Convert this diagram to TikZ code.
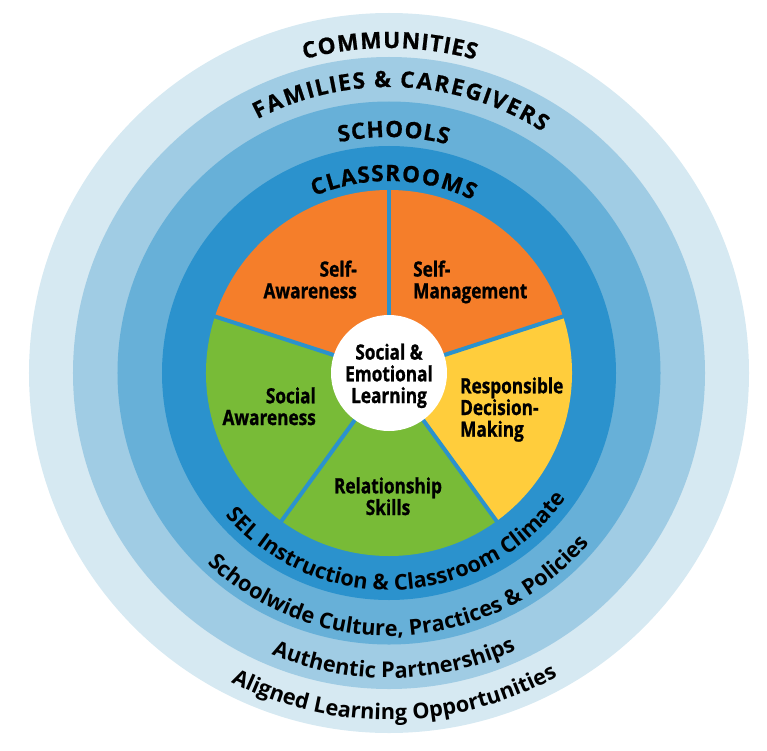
\documentclass[tikz,border=0pt]{standalone}
\usepackage{fontspec}
\usetikzlibrary{decorations.text}
\newfontfamily\osans{Open Sans}
\newfontfamily\ostitle{Open Sans}[FakeBold=0.8]
\newfontfamily\oscond{Open Sans}[FakeStretch=0.82,FakeBold=1]
\definecolor{commun}{HTML}{D6E9F2}
\definecolor{famil}{HTML}{A0CCE4}
\definecolor{school}{HTML}{67B0D8}
\definecolor{classr}{HTML}{2B92CD}
\definecolor{selorange}{HTML}{F57E2A}
\definecolor{selyellow}{HTML}{FFCD3C}
\definecolor{selgreen}{HTML}{78BB37}
\newcommand\mytitlefont{\ostitle\bfseries\fontsize{22.5}{26}\selectfont}
\newcommand\myarcfont{\osans\bfseries\fontsize{21.7}{26}\selectfont}
\newcommand\mypiefont{\oscond\bfseries\fontsize{21}{21.7}\selectfont}
\tikzset{
  titletext/.style={decorate, decoration={text effects along path, text={#1},
    text effects/.cd, text along path, fit text to path,
    characters={font=\mytitlefont, text=black, inner sep=0pt, anchor=base}}},
  arctext/.style={decorate, decoration={text along path,
    text={|\myarcfont|#1}, text align=center}},
  pielabel/.style={font=\mypiefont, text=black, inner sep=0pt},
  sep/.style={draw=classr, line width=4pt},
}
\begin{document}
\begin{tikzpicture}[x=1pt,y=1pt]
\useasboundingbox (-389,-377) rectangle (378,373);
% rings
\fill[commun] (0,0) circle[radius=360];
\fill[famil] (0,0) circle[radius=316];
\fill[school] (0,0) circle[radius=271.5];
\fill[classr] (0,0) circle[radius=227];
% pie sectors
\fill[selorange] (0,0) -- (90:183) arc[start angle=90, end angle=162, radius=183] -- cycle;
\fill[selorange] (0,0) -- (18:183) arc[start angle=18, end angle=90, radius=183] -- cycle;
\fill[selyellow] (0,0) -- (-54:183) arc[start angle=-54, end angle=18, radius=183] -- cycle;
\fill[selgreen] (0,0) -- (-126:183) arc[start angle=-126, end angle=-54, radius=183] -- cycle;
\fill[selgreen] (0,0) -- (162:183) arc[start angle=162, end angle=234, radius=183] -- cycle;
\coordinate (c) at (0,0);
\foreach \a in {90,18,-54,-126,162} {
  \coordinate (e\a) at (\a:184);
  \draw[sep] (c) -- (e\a);
}
\fill[white] (0,0) circle[radius=58];
% titles on top arcs
\path[titletext={COMMUNITIES}] (105.1:325) arc[start angle=105.1, end angle=74.6, radius=325];
\path[titletext={FAMILIES {\&} CAREGIVERS}] (117.4:286) arc[start angle=117.4, end angle=57.5, radius=286];
\path[titletext={SCHOOLS}] (102.2:236) arc[start angle=102.2, end angle=75.6, radius=236];
\path[titletext={CLASSROOMS}] (112.9:192) arc[start angle=112.9, end angle=64.3, radius=192];
% bottom arcs
\path[arctext={SEL Instruction {\&} Classroom Climate}] (200:217) arc[start angle=200, end angle=346, radius=217];
\path[arctext={Schoolwide Culture, Practices {\&} Policies}] (200:263) arc[start angle=200, end angle=346, radius=263];
\path[arctext={Authentic Partnerships}] (220:305) arc[start angle=220, end angle=322, radius=305];
\path[arctext={Aligned Learning Opportunities}] (220:347) arc[start angle=220, end angle=322, radius=347];
% pie labels (anchor base = baseline of last line)
\node[pielabel, anchor=base east, align=right] (sa) at (-32,74.7) {Self-\\Awareness};
\node[pielabel, anchor=base west, align=left] (sm) at (24,74.7) {Self-\\Management};
\node[pielabel, anchor=base west, align=left] (rdm) at (71,-63.7) {Responsible\\Decision-\\Making};
\node[pielabel, anchor=base east, align=right] (soca) at (-73,-52) {Social\\Awareness};
\node[pielabel, anchor=base, align=center] (rs) at (-1,-142) {Relationship\\Skills};
\node[pielabel, anchor=base, align=center] (sel) at (0,-30) {Social \&\\Emotional\\Learning};
\end{tikzpicture}
\end{document}
